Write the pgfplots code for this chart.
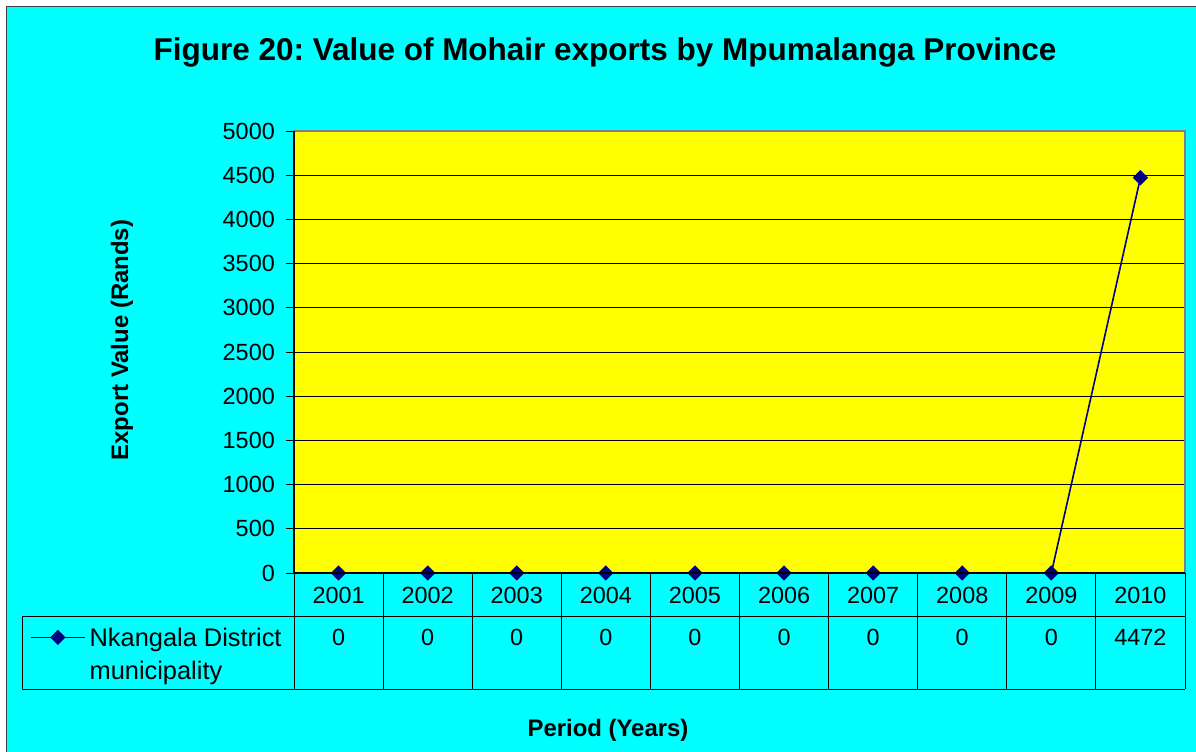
\documentclass[border=0pt]{standalone}
\usepackage{pgfplots}
\pgfplotsset{compat=1.18}
\usepackage{pgfplotstable}
\usepackage{fontspec}
\setmainfont{Liberation Sans}
\definecolor{bgcyan}{HTML}{00FFFF}
\definecolor{plotyellow}{HTML}{FFFF00}
\definecolor{navyline}{HTML}{000080}
\definecolor{framegray}{HTML}{808080}

\pgfplotstableread{
x year value
1 2001 0
2 2002 0
3 2003 0
4 2004 0
5 2005 0
6 2006 0
7 2007 0
8 2008 0
9 2009 0
10 2010 4472
}\datatable

\newcommand{\tickfont}{\fontsize{23.5}{28}\selectfont}

\begin{document}
\frenchspacing
\begin{tikzpicture}
\useasboundingbox (0bp,0bp) rectangle (1196bp,752bp);
\fill[white] (0bp,0bp) rectangle (1196bp,752bp);
\fill[bgcyan] (6bp,0bp) rectangle (1196bp,746bp);
\draw[line width=1.2bp, black!75] (6.5bp,0bp) -- (6.5bp,745.5bp) -- (1196bp,745.5bp);
\begin{axis}[
  at={(294bp,179bp)}, anchor=south west,
  width=891bp, height=442bp, scale only axis,
  xmin=0.5, xmax=10.5, ymin=0, ymax=5000,
  clip=false,
  axis background/.style={fill=plotyellow},
  axis line style={framegray, line width=1.2bp},
  ytick={0,500,...,5000},
  ytick pos=left,
  ymajorgrids, grid style={black, line width=0.9bp},
  xtick={1,...,10},
  xticklabels={2001,2002,2003,2004,2005,2006,2007,2008,2009,2010},
  xtick style={draw=none},
  ytick style={black, line width=0.9bp},
  tick align=outside, major tick length=8bp,
  ticklabel style={font=\tickfont},
  /pgf/number format/assume math mode=true,
  /pgf/number format/1000 sep={},
  xticklabel style={anchor=center, yshift=-14bp, inner sep=0pt},
  yticklabel style={anchor=east, inner sep=0pt, xshift=-11bp},
  title={Figure 20: Value of Mohair exports by Mpumalanga Province},
  title style={font=\fontsize{31.6}{36}\selectfont\bfseries, anchor=center,
    at={(axis description cs:0.349,1.165)}},
  ylabel={Export Value (Rands)},
  ylabel style={font=\fontsize{24}{28}\selectfont\bfseries, anchor=center,
    at={(axis description cs:-0.1930,0.527)}},
  xlabel={Period (Years)},
  xlabel style={font=\fontsize{24}{28}\selectfont\bfseries, anchor=center,
    at={(axis description cs:0.3524,-0.3550)}},
  legend image code/.code={\draw[#1, mark repeat=2, mark phase=2]
    plot coordinates {(0bp,17bp)(27bp,17bp)(54bp,17bp)};},
  legend style={draw=none, fill=none, inner sep=0pt, outer sep=0pt,
    at={(axis description cs:-0.2963,-0.1244)}, anchor=north west,
    column sep=4bp,
    nodes={align=left, font=\fontsize{25.5}{33}\selectfont, inner sep=0pt}},
  legend cell align=left,
]
\addplot[navyline, line width=1.6bp, mark=square*, mark size=4.6bp,
  mark options={rotate=45, fill=navyline, draw=navyline}]
  table[x=x, y=value] {\datatable};
\addlegendentry{Nkangala District\\municipality}
\addplot[draw=none, mark=none, forget plot, nodes near coords,
  point meta=explicit,
  every node near coord/.append style={font=\tickfont, anchor=center, inner sep=0pt}]
  table[x=x, y expr=-724, meta=value] {\datatable};
\end{axis}
% data table grid
\foreach \k in {0,...,10} {
  \draw[black, line width=0.9bp] ({(294+89.1*\k)*1bp},179bp) -- ({(294+89.1*\k)*1bp},63bp);
}
\draw[black, line width=0.9bp] (22bp,136bp) -- (1185bp,136bp);
\draw[black, line width=0.9bp] (22bp,63bp) -- (1185bp,63bp);
\draw[black, line width=0.9bp] (22bp,136bp) -- (22bp,63bp);
\draw[black, line width=1.2bp] (294bp,621bp) -- (294bp,179bp) -- (1185bp,179bp);
\end{tikzpicture}
\end{document}
